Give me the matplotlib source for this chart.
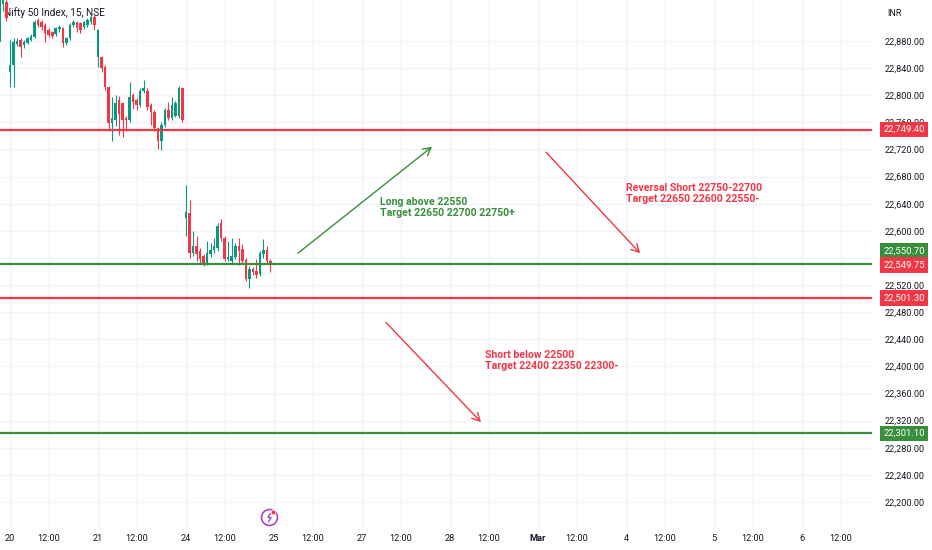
import matplotlib
matplotlib.use("Agg")
import matplotlib.pyplot as plt
from matplotlib.path import Path
import numpy as np

plt.rcParams['font.family'] = ['Roboto', 'DejaVu Sans']

# 15 min candles, last bars of Feb 19 then Feb 20, 21, 24 (25 bars a day)
first_bar = -3
opens = [22879, 22935, 22938,
         # Feb 20
         22834, 22844, 22876, 22882, 22874, 22877, 22882, 22886, 22911, 22908,
         22904, 22896, 22893, 22891, 22897, 22899, 22877, 22884, 22904, 22908,
         22906, 22900, 22904, 22908, 22915,
         # Feb 21
         22856, 22856, 22842, 22812, 22759, 22763, 22793, 22788, 22766, 22763,
         22800, 22793, 22785, 22806, 22807, 22785, 22775, 22751, 22733, 22756,
         22778, 22767, 22770, 22770, 22810,
         # Feb 24
         22619, 22626, 22568, 22578, 22570, 22563, 22552, 22566, 22572, 22574,
         22611, 22589, 22558, 22556, 22562, 22578, 22573, 22557, 22529, 22544,
         22541, 22536, 22566, 22572, 22556]
closes = [22945, 22942, 22914,
          22844, 22878, 22880, 22871, 22879, 22884, 22888, 22908, 22904, 22900,
          22892, 22889, 22888, 22899, 22900, 22877, 22884, 22904, 22908, 22899,
          22896, 22908, 22911, 22915, 22904,
          22896, 22840, 22812, 22759, 22766, 22788, 22773, 22763, 22763, 22798,
          22790, 22785, 22807, 22811, 22782, 22775, 22751, 22733, 22756, 22778,
          22766, 22785, 22788, 22811, 22763,
          22628, 22568, 22578, 22566, 22559, 22552, 22567, 22572, 22578, 22607,
          22589, 22559, 22562, 22563, 22578, 22570, 22556, 22529, 22544, 22540,
          22535, 22567, 22572, 22556, 22549.75]
highs = [22950, 22948, 22941,
         22881, 22884, 22884, 22885, 22882, 22886, 22890, 22911, 22914, 22911,
         22906, 22899, 22895, 22901, 22904, 22901, 22886, 22906, 22911, 22910,
         22908, 22910, 22914, 22918, 22918,
         22898, 22858, 22845, 22814, 22797, 22801, 22799, 22790, 22770, 22819,
         22803, 22796, 22810, 22822, 22810, 22788, 22778, 22753, 22760, 22781,
         22790, 22797, 22791, 22814, 22812,
         22667, 22645, 22600, 22593, 22574, 22566, 22585, 22582, 22590, 22611,
         22618, 22592, 22585, 22590, 22582, 22590, 22580, 22560, 22548, 22547,
         22559, 22570, 22588, 22577, 22559]
lows = [22875, 22925, 22910,
        22812, 22812, 22872, 22856, 22870, 22875, 22880, 22884, 22901, 22896,
        22879, 22886, 22884, 22888, 22894, 22871, 22874, 22882, 22901, 22893,
        22892, 22897, 22901, 22905, 22896,
        22842, 22835, 22808, 22748, 22733, 22755, 22741, 22738, 22748, 22760,
        22780, 22778, 22782, 22803, 22778, 22756, 22748, 22721, 22719, 22753,
        22763, 22764, 22768, 22767, 22760,
        22593, 22560, 22563, 22556, 22552, 22548, 22550, 22562, 22568, 22570,
        22585, 22556, 22555, 22553, 22558, 22549, 22552, 22526, 22516, 22535,
        22530, 22533, 22560, 22552, 22540]

# horizontal levels drawn on the chart
levels = [22749.40, 22550.70, 22501.30, 22301.10]
level_kinds = ['red', 'green', 'red', 'green']
last_price = 22549.75

# time axis
bars_per_day = 25
day_labels = ['20', '21', '24', '25', '27', '28', 'Mar', '4', '5', '6']
noon_offset = 11  # 12:00 is the 12th bar after 9:15
price_ticks = np.arange(22200, 22881, 40)

# drawings (bar index, price)
green_arrow = [(81.8, 22567), (119.9, 22724)]
red_arrows = [[(152.3, 22716), (179.0, 22567)],
              [(106.8, 22465), (133.8, 22318)]]
notes = [(105.1, 22634, 'Long above 22550\nTarget 22650 22700 22750+', 'green'),
         (174.9, 22655, 'Reversal Short 22750-22700\nTarget 22650 22600 22550-', 'red'),
         (134.9, 22409, 'Short below 22500\nTarget 22400 22350 22300-', 'red')]
alert_pos = (73.7, 22178)

UP = '#089981'
DOWN = '#f23645'
COLORS = {'red': '#f23645', 'green': '#388e3c'}
TXT = '#131722'
PURPLE = '#ab47bc'

fig = plt.figure(figsize=(9.32, 5.5), dpi=100)
ax = fig.add_axes([0, 22 / 550, 872 / 932, 528 / 550])

# candles
x = np.arange(first_bar, first_bar + len(opens))
o = np.array(opens, dtype=float)
c = np.array(closes, dtype=float)
h = np.array(highs, dtype=float)
l = np.array(lows, dtype=float)
col = np.where(c >= o, UP, DOWN)
ax.vlines(x, l, h, colors=col, lw=0.8, zorder=3)
body = np.maximum(np.abs(c - o), 1.0)
ax.bar(x, body, bottom=np.minimum(o, c), width=0.72, color=col, lw=0, zorder=3)

# levels
for lv, kind in zip(levels, level_kinds):
    ax.axhline(lv, color=COLORS[kind], lw=1.6, zorder=4)

# price boxes on the scale
def price_box(value, color, dy=0):
    ax.annotate(f'{value:,.2f}', xy=(1, value), xycoords=('axes fraction', 'data'),
                xytext=(8.2, dy), textcoords='offset points', ha='left', va='center',
                color='white', fontsize=6.8,
                bbox=dict(boxstyle='square,pad=0.35', fc=color, ec='none'),
                annotation_clip=False, zorder=10)

price_box(levels[0], COLORS['red'])
price_box(levels[1], COLORS['green'], dy=9.4)
price_box(last_price, DOWN)
price_box(levels[2], COLORS['red'])
price_box(levels[3], COLORS['green'])

# arrows and notes
def arrow(p0, p1, color):
    ax.annotate('', xy=p1, xytext=p0,
                arrowprops=dict(arrowstyle='->,head_length=0.55,head_width=0.3',
                                color=color, lw=1.0, shrinkA=0, shrinkB=0), zorder=5)

arrow(green_arrow[0], green_arrow[1], COLORS['green'])
for a in red_arrows:
    arrow(a[0], a[1], COLORS['red'])

for nx, ny, txt, kind in notes:
    ax.text(nx, ny, txt, color=COLORS[kind], fontsize=7.6, fontweight='semibold',
            ha='left', va='center', linespacing=1.15, zorder=5)

# alert icon: circle, lightning bolt, red dot
ax.plot(*alert_pos, marker='o', ms=11.5, mfc='white', mec=PURPLE, mew=1.2, zorder=6)
bolt = Path([(0.25, 1.0), (-0.35, 0.0), (0.35, 0.0), (-0.25, -1.0)],
            [Path.MOVETO, Path.LINETO, Path.LINETO, Path.LINETO])
ax.plot(*alert_pos, marker=bolt, ms=6.5, mfc='none', mec=PURPLE, mew=1.0, zorder=7)
ax.plot(alert_pos[0] + 1.1, alert_pos[1] + 7.5, marker='o', ms=3.4, mfc='#f23645',
        mec='white', mew=0.5, zorder=8)

# title
ax.text(4 / 872, 1 - 13 / 528, 'Nifty 50 Index, 15, NSE', transform=ax.transAxes,
        fontsize=7.2, color=TXT, ha='left', va='center', zorder=2)
fig.text(887 / 932, 1 - 13 / 550, 'INR', fontsize=6.5, color=TXT, ha='left', va='center')

# axes
xt, xl = [], []
for d, lab in enumerate(day_labels):
    xt += [d * bars_per_day, d * bars_per_day + noon_offset]
    xl += [lab, '12:00']
ax.set_xticks(xt)
ax.set_xticklabels(xl)
for t in ax.get_xticklabels():
    if t.get_text() == 'Mar':
        t.set_fontweight('bold')
ax.set_yticks(price_ticks)
# 22,560 sits fully under the price boxes, so its label is left out
ax.set_yticklabels(['' if v == 22560 else f'{v:,.2f}' for v in price_ticks])
ax.yaxis.tick_right()
ax.tick_params(axis='y', length=0, pad=9, labelsize=6.6, labelcolor=TXT)
ax.tick_params(axis='x', length=0, pad=4, labelsize=6.6, labelcolor=TXT)
ax.grid(True, color='#f0f3fa', lw=1, zorder=0)
ax.set_axisbelow(True)
for s in ax.spines.values():
    s.set_visible(False)

ax.set_xlim(-2.84, 244.9)
ax.set_ylim(22161.7, 22940.5)

fig.savefig('out.png', dpi=100)
